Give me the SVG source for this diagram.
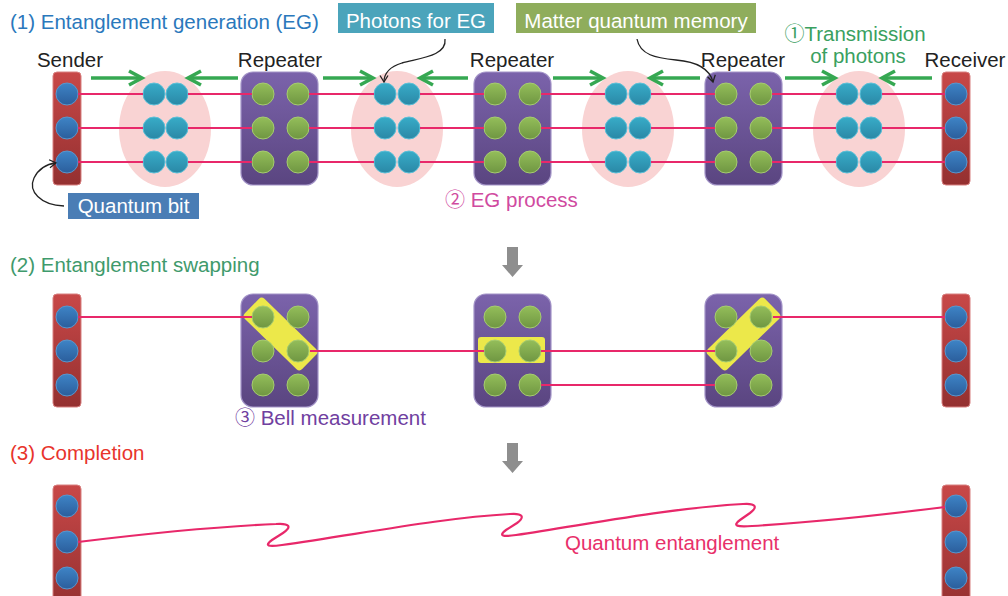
<svg xmlns="http://www.w3.org/2000/svg" width="1008" height="596" viewBox="0 0 1008 596">
<defs>
<linearGradient id="gRed" x1="0" y1="0" x2="0" y2="1"><stop offset="0" stop-color="#c84848"/><stop offset="1" stop-color="#943030"/></linearGradient>
<linearGradient id="gBlue" x1="0" y1="0" x2="0" y2="1"><stop offset="0" stop-color="#3e84c6"/><stop offset="1" stop-color="#2b5e9c"/></linearGradient>
<linearGradient id="gTeal" x1="0" y1="0" x2="0" y2="1"><stop offset="0" stop-color="#38acc8"/><stop offset="1" stop-color="#2a88a6"/></linearGradient>
<linearGradient id="gGreen" x1="0" y1="0" x2="0" y2="1"><stop offset="0" stop-color="#94be5a"/><stop offset="1" stop-color="#6f9642"/></linearGradient>
<linearGradient id="gPurple" x1="0" y1="0" x2="0" y2="1"><stop offset="0" stop-color="#7b63ab"/><stop offset="1" stop-color="#5a4580"/></linearGradient>
<marker id="mGreen" markerUnits="userSpaceOnUse" markerWidth="18" markerHeight="18" refX="15" refY="8" orient="auto" overflow="visible">
<path d="M2,1 L15,8 L2,15" fill="none" stroke="#36a852" stroke-width="3.5"/>
</marker>
<marker id="mBlack" markerUnits="userSpaceOnUse" markerWidth="10" markerHeight="10" refX="7" refY="4.5" orient="auto" overflow="visible">
<path d="M0.5,0.5 L7,4.5 L0.5,8.5" fill="none" stroke="#222" stroke-width="1.3"/>
</marker>
</defs>
<style>
text{font-family:"Liberation Sans","DejaVu Sans",Arial,sans-serif;font-size:20.5px}
.cd{font-family:"Noto Sans CJK JP","DejaVu Sans",sans-serif;font-size:20px}
.lbl{fill:#222;text-anchor:middle}
.wt{fill:#fff;text-anchor:middle}
.bar{fill:url(#gRed);stroke:#d88080;stroke-width:1}
.rep{fill:url(#gPurple);stroke:#a394c8;stroke-width:1.2}
.qb{fill:url(#gBlue);stroke:#5a96cc;stroke-width:1}
.ph{fill:url(#gTeal);stroke:#5cc0d8;stroke-width:1}
.mm{fill:url(#gGreen);stroke:#a6cc70;stroke-width:1}
.eg{fill:#f9d3d3}
.yl{fill:#ece84a}
.pk{fill:none;stroke:#e8286a;stroke-width:2.2}
.ga{fill:none;stroke:#36a852;stroke-width:3.5;marker-end:url(#mGreen)}
.bp{fill:none;stroke:#222;stroke-width:1.3;marker-end:url(#mBlack)}
.da{fill:#8e8e8e}
</style>

<!-- Titles and labels -->
<g id="titles">
<text x="10" y="29" fill="#2a78bc">(1) Entanglement generation (EG)</text>
<text x="10" y="272" fill="#3f9a6c">(2) Entanglement swapping</text>
<text x="10" y="460" fill="#e8342c">(3) Completion</text>
</g>

<!-- Row 1 -->
<g id="sender1">
<text class="lbl" x="70" y="67">Sender</text>
<rect class="bar" x="53" y="72" width="28" height="113" rx="4"/>
<circle class="qb" cx="67" cy="94" r="11"/><circle class="qb" cx="67" cy="128" r="11"/><circle class="qb" cx="67" cy="162" r="11"/>
</g>
<g id="eg1">
<ellipse class="eg" cx="165" cy="129" rx="46" ry="58"/>
<circle class="ph" cx="154" cy="94" r="11"/><circle class="ph" cx="177" cy="94" r="11"/>
<circle class="ph" cx="154" cy="128" r="11"/><circle class="ph" cx="177" cy="128" r="11"/>
<circle class="ph" cx="154" cy="162" r="11"/><circle class="ph" cx="177" cy="162" r="11"/>
</g>
<g id="repeater1">
<text class="lbl" x="280" y="67">Repeater</text>
<rect class="rep" x="241" y="72" width="77" height="113" rx="12"/>
<circle class="mm" cx="263" cy="94" r="11"/><circle class="mm" cx="298" cy="94" r="11"/>
<circle class="mm" cx="263" cy="128" r="11"/><circle class="mm" cx="298" cy="128" r="11"/>
<circle class="mm" cx="263" cy="162" r="11"/><circle class="mm" cx="298" cy="162" r="11"/>
</g>
<g id="eg2">
<ellipse class="eg" cx="397" cy="129" rx="46" ry="58"/>
<circle class="ph" cx="385" cy="94" r="11"/><circle class="ph" cx="409" cy="94" r="11"/>
<circle class="ph" cx="385" cy="128" r="11"/><circle class="ph" cx="409" cy="128" r="11"/>
<circle class="ph" cx="385" cy="162" r="11"/><circle class="ph" cx="409" cy="162" r="11"/>
</g>
<g id="repeater2">
<text class="lbl" x="512" y="67">Repeater</text>
<rect class="rep" x="474" y="72" width="77" height="113" rx="12"/>
<circle class="mm" cx="495" cy="94" r="11"/><circle class="mm" cx="530" cy="94" r="11"/>
<circle class="mm" cx="495" cy="128" r="11"/><circle class="mm" cx="530" cy="128" r="11"/>
<circle class="mm" cx="495" cy="162" r="11"/><circle class="mm" cx="530" cy="162" r="11"/>
</g>
<g id="eg3">
<ellipse class="eg" cx="628" cy="129" rx="46" ry="58"/>
<circle class="ph" cx="616" cy="94" r="11"/><circle class="ph" cx="640" cy="94" r="11"/>
<circle class="ph" cx="616" cy="128" r="11"/><circle class="ph" cx="640" cy="128" r="11"/>
<circle class="ph" cx="616" cy="162" r="11"/><circle class="ph" cx="640" cy="162" r="11"/>
</g>
<g id="repeater3">
<text class="lbl" x="743" y="67">Repeater</text>
<rect class="rep" x="705" y="72" width="77" height="113" rx="12"/>
<circle class="mm" cx="726" cy="94" r="11"/><circle class="mm" cx="761" cy="94" r="11"/>
<circle class="mm" cx="726" cy="128" r="11"/><circle class="mm" cx="761" cy="128" r="11"/>
<circle class="mm" cx="726" cy="162" r="11"/><circle class="mm" cx="761" cy="162" r="11"/>
</g>
<g id="eg4">
<ellipse class="eg" cx="859" cy="129" rx="46" ry="58"/>
<circle class="ph" cx="847" cy="94" r="11"/><circle class="ph" cx="871" cy="94" r="11"/>
<circle class="ph" cx="847" cy="128" r="11"/><circle class="ph" cx="871" cy="128" r="11"/>
<circle class="ph" cx="847" cy="162" r="11"/><circle class="ph" cx="871" cy="162" r="11"/>
</g>
<g id="receiver1">
<text class="lbl" x="965" y="67">Receiver</text>
<rect class="bar" x="942" y="72" width="28" height="113" rx="4"/>
<circle class="qb" cx="956" cy="94" r="11"/><circle class="qb" cx="956" cy="128" r="11"/><circle class="qb" cx="956" cy="162" r="11"/>
</g>

<g id="label-photons">
<rect x="338" y="3" width="156" height="30" fill="#4ba4bb"/>
<text class="wt" x="416" y="28">Photons for EG</text>
</g>
<g id="label-memory">
<rect x="516" y="3" width="240" height="30" fill="#8fad5c"/>
<text class="wt" x="636" y="28">Matter quantum memory</text>
</g>
<g id="label-qubit">
<rect x="68" y="193" width="131" height="26" fill="#4a7db5"/>
<text class="wt" x="133.5" y="213">Quantum bit</text>
</g>
<g id="label-transmission">
<text x="855" y="41" fill="#3aa060" text-anchor="middle"><tspan class="cd">①</tspan>Transmission</text>
<text x="858" y="63" fill="#3aa060" text-anchor="middle">of photons</text>
</g>
<g id="label-egprocess">
<text x="445" y="207" fill="#d04aa0"><tspan class="cd">②</tspan> EG process</text>
</g>

<!-- Row 2 -->
<g id="sender2">
<rect class="bar" x="53" y="294" width="28" height="113" rx="4"/>
<circle class="qb" cx="67" cy="317" r="11"/><circle class="qb" cx="67" cy="351" r="11"/><circle class="qb" cx="67" cy="385" r="11"/>
</g>
<g id="repeater2-1">
<rect class="rep" x="241" y="294" width="77" height="113" rx="12"/>
<rect class="yl" x="240.5" y="320" width="80" height="28" rx="4" transform="rotate(44.2 280.5 334)"/>
<circle class="mm" cx="263" cy="317" r="11"/><circle class="mm" cx="298" cy="317" r="11"/>
<circle class="mm" cx="263" cy="351" r="11"/><circle class="mm" cx="298" cy="351" r="11"/>
<circle class="mm" cx="263" cy="385" r="11"/><circle class="mm" cx="298" cy="385" r="11"/>
</g>
<g id="repeater2-2">
<rect class="rep" x="474" y="294" width="77" height="113" rx="12"/>
<rect class="yl" x="478" y="337" width="67" height="26" rx="3"/>
<circle class="mm" cx="495" cy="317" r="11"/><circle class="mm" cx="530" cy="317" r="11"/>
<circle class="mm" cx="495" cy="351" r="11"/><circle class="mm" cx="530" cy="351" r="11"/>
<circle class="mm" cx="495" cy="385" r="11"/><circle class="mm" cx="530" cy="385" r="11"/>
</g>
<g id="repeater2-3">
<rect class="rep" x="705" y="294" width="77" height="113" rx="12"/>
<rect class="yl" x="703.5" y="320" width="80" height="28" rx="4" transform="rotate(-44.2 743.5 334)"/>
<circle class="mm" cx="726" cy="317" r="11"/><circle class="mm" cx="761" cy="317" r="11"/>
<circle class="mm" cx="726" cy="351" r="11"/><circle class="mm" cx="761" cy="351" r="11"/>
<circle class="mm" cx="726" cy="385" r="11"/><circle class="mm" cx="761" cy="385" r="11"/>
</g>
<g id="receiver2">
<rect class="bar" x="942" y="294" width="28" height="113" rx="4"/>
<circle class="qb" cx="956" cy="317" r="11"/><circle class="qb" cx="956" cy="351" r="11"/><circle class="qb" cx="956" cy="385" r="11"/>
</g>
<g id="label-bell">
<text x="235" y="425" fill="#7040a0"><tspan class="cd">③</tspan> Bell measurement</text>
</g>

<!-- Row 3 -->
<g id="sender3">
<rect class="bar" x="53" y="485" width="28" height="125" rx="4"/>
<circle class="qb" cx="67" cy="506" r="11"/><circle class="qb" cx="67" cy="542" r="11"/><circle class="qb" cx="67" cy="578" r="11"/>
</g>
<g id="receiver3">
<rect class="bar" x="942" y="485" width="28" height="125" rx="4"/>
<circle class="qb" cx="956" cy="506" r="11"/><circle class="qb" cx="956" cy="542" r="11"/><circle class="qb" cx="956" cy="578" r="11"/>
</g>
<g id="label-entanglement">
<text x="565" y="550" fill="#e8306a">Quantum entanglement</text>
</g>

<!-- Step arrows -->
<g id="step-arrows">
<path class="da" d="M507,247 H518 V265 H523 L512.5,277 L502,265 H507 Z"/>
<path class="da" d="M507,443 H518 V461 H523 L512.5,473 L502,461 H507 Z"/>
</g>

<!-- Connectors -->
<g id="connectors">
<path class="pk" d="M78,94H143M188,94H252M309,94H374M420,94H484M541,94H605M651,94H715M772,94H836M882,94H945"/>
<path class="pk" d="M78,128H143M188,128H252M309,128H374M420,128H484M541,128H605M651,128H715M772,128H836M882,128H945"/>
<path class="pk" d="M78,162H143M188,162H252M309,162H374M420,162H484M541,162H605M651,162H715M772,162H836M882,162H945"/>
<path class="pk" d="M78,317H252"/>
<path class="pk" d="M310,351H484"/>
<path class="pk" d="M541,351H715"/>
<path class="pk" d="M541,385H715"/>
<path class="pk" d="M773,317H945"/>
<path class="pk" d="M78,542 C160,532 230,526 276,524 C290,523 292,527 283,533 L272,540 C264,546 268,547 282,545 C360,534 440,518 510,514 C523,513 525,517 517,523 L506,530 C498,536 503,537 516,535 C590,524 670,508 743,504 C756,503 758,507 750,513 L740,520 C732,526 737,527 752,526 C820,522 890,514 945,507"/>
<path class="ga" d="M91,78H142"/>
<path class="ga" d="M238,78H188"/>
<path class="ga" d="M323,78H373"/>
<path class="ga" d="M468,78H420"/>
<path class="ga" d="M553,78H603"/>
<path class="ga" d="M700,78H650"/>
<path class="ga" d="M785,78H835"/>
<path class="ga" d="M932,78H882"/>
<path class="bp" d="M445,39 C447,56 420,58 402,63 C389,67 384,73 384,82"/>
<path class="bp" d="M637,39 C640,55 656,58 676,60 C700,62 710,70 713,82"/>
<path class="bp" d="M64,206 C40,205 28,191 34,178 C39,168 47,164 56,163"/>
</g>
</svg>
